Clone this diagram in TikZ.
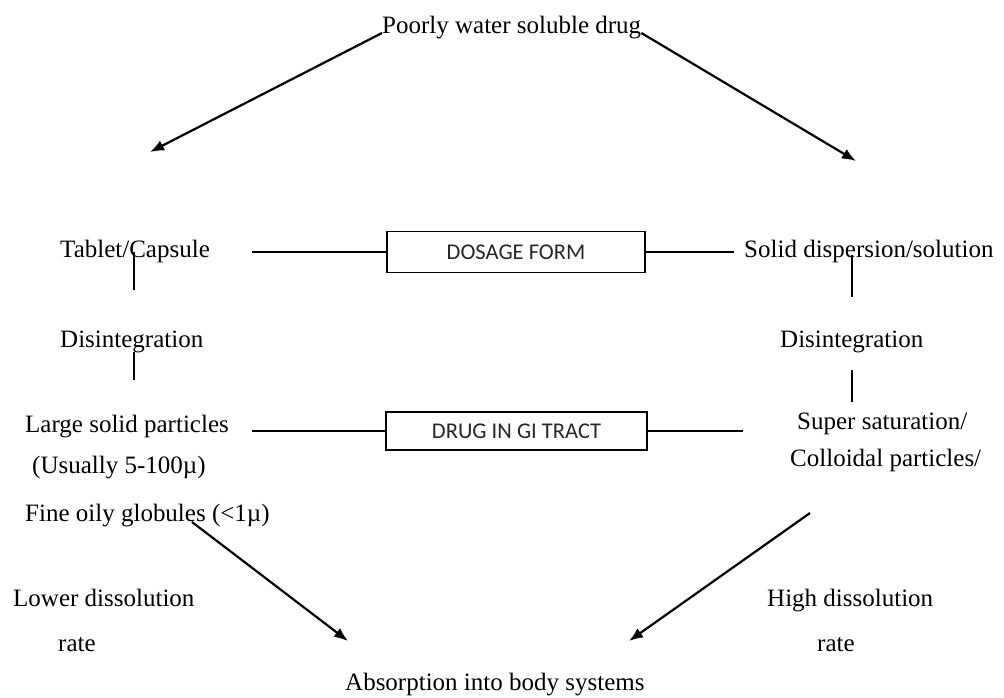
\documentclass[tikz,border=0pt]{standalone}
\usepackage{fontspec}
\setmainfont{Liberation Serif}
\newfontfamily\boxfont{Carlito}
\usetikzlibrary{arrows.meta}

\begin{document}
\begin{tikzpicture}[x=1pt, y=-1pt,
    txt/.style={anchor=base west, inner sep=0pt, text=black, font=\fontsize{25}{30}\selectfont},
    formbox/.style={draw, line width=1.6pt, inner sep=0pt, text=black!85, font=\boxfont\fontsize{22.5}{27}\selectfont},
    ln/.style={line width=1.6pt},
    arr/.style={line width=2.2pt, -{Latex[length=14pt,width=11pt]}}]
  \useasboundingbox (0,0) rectangle (1004,697);
  % top
  \node[txt] (drug) at (382,33) {Poorly water soluble drug};
  \coordinate (tl) at (150,152);
  \coordinate (tr) at (856,161);
  \draw[arr] (drug.base west) -- (tl);
  \draw[arr] (drug.base east) -- (tr);
  % dosage form
  \node[txt] (tab) at (60,257) {Tablet/Capsule};
  \node[txt] (sds) at (744,257) {Solid dispersion/solution};
  \node[formbox, minimum width=258pt, minimum height=41pt] (form) at (516,252) {DOSAGE FORM};
  \draw[ln] (form.west) -- ++(-134,0);
  \draw[ln] (form.east) -- ++(88,0);
  \node[txt] (dis1) at (60,347) {Disintegration};
  \node[txt] (dis2) at (780,347) {Disintegration};
  \draw[ln] (dis1.base) ++(2,-95) -- ++(0,38);
  \draw[ln] (dis1.base) ++(2,5) -- ++(0,28);
  \draw[ln] (dis2.base) ++(0,-92) -- ++(0,42);
  \draw[ln] (dis2.base) ++(0,23) -- ++(0,32);
  % drug in gi tract
  \node[txt] (lsp) at (25,432) {Large solid particles};
  \node[txt] (usu) at (32,473) {(Usually 5-100µ)};
  \node[txt] (fine) at (25,521) {Fine oily globules (<1µ)};
  \node[txt] (sup) at (797,429) {Super saturation/};
  \node[txt] (col) at (790,466) {Colloidal particles/};
  \node[formbox, minimum width=261pt, minimum height=38pt] (gi) at (516.5,431) {DRUG IN GI TRACT};
  \draw[ln] (gi.west) -- ++(-133,0);
  \draw[ln] (gi.east) -- ++(95,0);
  % absorption
  \node[txt] (low) at (13,606) {Lower dissolution};
  \node[txt] (rate1) at (58,651) {rate};
  \node[txt] (high) at (767,606) {High dissolution};
  \node[txt] (rate2) at (817,651) {rate};
  \node[txt] (abs) at (345,690) {Absorption into body systems};
  \coordinate (bl) at (348,641);
  \coordinate (br) at (629,641);
  \draw[arr] (fine.base west) ++(167,1) -- (bl);
  \draw[arr] (col.base west) ++(20,47) -- (br);
\end{tikzpicture}
\end{document}
